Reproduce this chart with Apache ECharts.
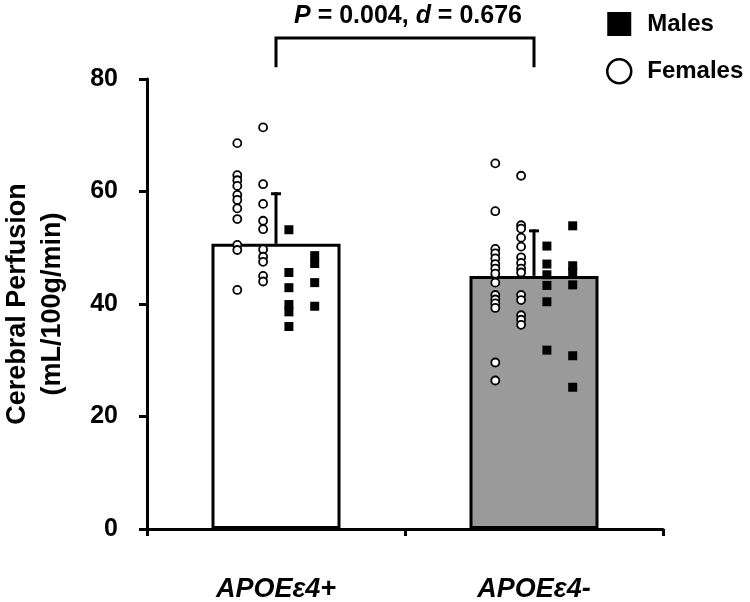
<!DOCTYPE html>
<html>
<head>
<meta charset="utf-8">
<script src="https://cdn.jsdelivr.net/npm/echarts@6/dist/echarts.min.js"></script>
<style>html,body{margin:0;padding:0;background:#fff}#c{width:750px;height:602px}</style>
</head>
<body>
<div id="c"></div>
<script>
// ---- data ----
const categories = ['APOEε4+', 'APOEε4-'];
const barMeans = [50.7, 45.0];
const barSD = [8.9, 8.0];
const yTicks = [0, 20, 40, 60, 80];

// APOEε4+ individual values
const posFemalesA = [68.6, 62.9, 62.0, 61.0, 59.4, 58.5, 57.0, 55.1, 50.5, 49.6, 42.5];
const posFemalesB = [71.4, 61.3, 57.8, 54.8, 53.3, 49.7, 48.4, 47.5, 45.0, 44.0];
const posMalesA = [53.2, 45.6, 42.9, 39.9, 38.6, 36.0];
const posMalesB = [48.6, 47.2, 43.8, 39.6];
// APOEε4- individual values
const negFemalesA = [65.0, 56.5, 49.8, 49.0, 48.1, 47.1, 46.3, 45.4, 43.8, 41.6, 40.8, 40.1, 39.3, 29.6, 26.4];
const negFemalesB = [62.8, 54.0, 53.4, 51.8, 50.2, 48.3, 47.3, 46.3, 45.6, 41.6, 40.7, 38.0, 37.2, 36.3];
const negMalesA = [50.3, 47.1, 45.2, 43.3, 40.4, 31.8];
const negMalesB = [53.9, 46.8, 45.7, 43.4, 30.8, 25.2];

const statText = '{i|P} = 0.004, {i|d} = 0.676';

// ---- layout helpers (column jitter within a category) ----
const colOffset = [-0.15, -0.05, 0.05, 0.15];
function pts(groupIdx, col, vals) {
  return vals.map(v => [groupIdx + 0.5 + colOffset[col], v]);
}
const femaleData = [].concat(
  pts(0, 0, posFemalesA), pts(0, 1, posFemalesB),
  pts(1, 0, negFemalesA), pts(1, 1, negFemalesB));
const maleData = [].concat(
  pts(0, 2, posMalesA), pts(0, 3, posMalesB),
  pts(1, 2, negMalesA), pts(1, 3, negMalesB));

const FONT = '"Liberation Sans", Arial, Helvetica, sans-serif';
const chart = echarts.init(document.getElementById('c'), null, {renderer: 'canvas'});

const bracketTop = 87.3, bracketBottom = 82.1;

chart.setOption({
  animation: false,
  backgroundColor: '#fff',
  textStyle: {fontFamily: FONT},
  title: {
    text: statText,
    left: 408,
    top: 4,
    textAlign: 'center',
    padding: 0,
    textStyle: {
      fontFamily: FONT, fontSize: 25, fontWeight: 'bold', color: '#000',
      rich: {i: {fontFamily: FONT, fontSize: 25, fontWeight: 'bold', fontStyle: 'italic', color: '#000'}}
    }
  },
  legend: {
    orient: 'vertical',
    left: 606,
    top: 12,
    itemWidth: 24,
    itemHeight: 24,
    itemGap: 22,
    padding: 0,
    selectedMode: false,
    textStyle: {fontFamily: FONT, fontSize: 24, fontWeight: 'bold', color: '#000', padding: [0, 0, 0, 11]},
    data: [
      {name: 'Males', icon: 'rect', itemStyle: {color: '#000', borderWidth: 0}},
      {name: 'Females', icon: 'circle', itemStyle: {color: '#fff', borderColor: '#000', borderWidth: 2.5}}
    ]
  },
  grid: {left: 147, right: 87, top: 79, bottom: 73, containLabel: false, outerBoundsMode: 'none'},
  xAxis: [{
    type: 'category',
    data: categories,
    boundaryGap: true,
    axisLine: {lineStyle: {color: '#000', width: 3}},
    axisTick: {show: true, length: 7, lineStyle: {color: '#000', width: 3}},
    axisLabel: {fontFamily: FONT, fontSize: 27, fontWeight: 'bold', fontStyle: 'italic', color: '#000', margin: 47}
  }, {
    type: 'value', min: 0, max: 2, show: false
  }],
  yAxis: {
    type: 'value',
    min: 0, max: 80, interval: 20,
    name: 'Cerebral Perfusion\n(mL/100g/min)',
    nameLocation: 'middle',
    nameRotate: 90,
    nameGap: 77,
    nameTextStyle: {fontFamily: FONT, fontSize: 27, fontWeight: 'bold', color: '#000', lineHeight: 35},
    axisLine: {show: true, lineStyle: {color: '#000', width: 3}},
    axisTick: {show: true, length: 8, lineStyle: {color: '#000', width: 3}},
    splitLine: {show: false},
    axisLabel: {fontFamily: FONT, fontSize: 25, fontWeight: 'bold', color: '#000', margin: 29,
      formatter: v => yTicks.includes(v) ? String(v) : ''}
  },
  series: [
    {
      type: 'bar',
      xAxisIndex: 0,
      barWidth: '50%',
      z: 2,
      data: barMeans.map((v, i) => ({value: v, itemStyle: {color: i === 0 ? '#ffffff' : '#9a9a9a'}})),
      itemStyle: {borderColor: '#000', borderWidth: 3}
    },
    {
      type: 'custom',
      xAxisIndex: 0,
      z: 5,
      data: barMeans.map((m, i) => [i, m, barSD[i]]),
      renderItem: function (params, api) {
        const x = api.value(0), m = api.value(1), sd = api.value(2);
        const b = api.coord([x, m]);
        const t = api.coord([x, m + sd]);
        return {type: 'group', children: [
          {type: 'line', shape: {x1: b[0], y1: b[1], x2: t[0], y2: t[1] - 1.5}, style: {stroke: '#000', lineWidth: 3}},
          {type: 'line', shape: {x1: t[0] - 5, y1: t[1], x2: t[0] + 5, y2: t[1]}, style: {stroke: '#000', lineWidth: 3}}
        ]};
      }
    },
    {
      type: 'custom',
      xAxisIndex: 0,
      z: 5,
      clip: false,
      data: [[0, 1]],
      renderItem: function (params, api) {
        const l0 = api.coord([api.value(0), bracketBottom]);
        const l1 = api.coord([api.value(0), bracketTop]);
        const r0 = api.coord([api.value(1), bracketBottom]);
        const r1 = api.coord([api.value(1), bracketTop]);
        return {type: 'polyline', shape: {points: [l0, l1, r1, r0]},
          style: {stroke: '#000', lineWidth: 3, fill: null, lineJoin: 'miter'}};
      }
    },
    {
      name: 'Females',
      type: 'scatter',
      xAxisIndex: 1,
      symbol: 'circle',
      symbolSize: 8,
      z: 4,
      itemStyle: {color: '#fff', borderColor: '#000', borderWidth: 1.8, opacity: 1},
      data: femaleData
    },
    {
      name: 'Males',
      type: 'scatter',
      xAxisIndex: 1,
      symbol: 'rect',
      symbolSize: 9,
      z: 4,
      itemStyle: {color: '#000', opacity: 1},
      data: maleData
    }
  ]
});
</script>
</body>
</html>
